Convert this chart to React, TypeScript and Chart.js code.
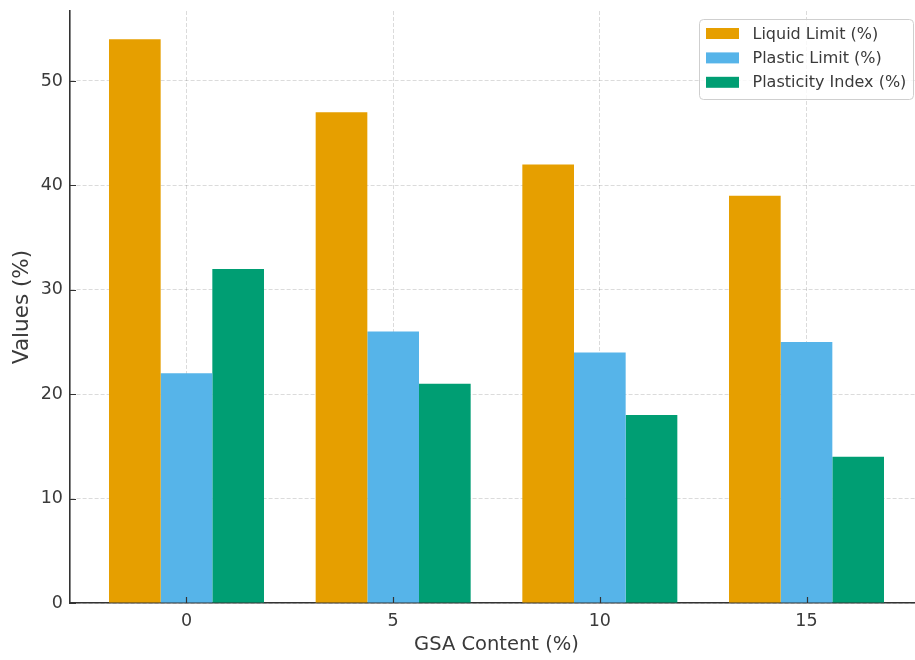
import React, { useEffect, useRef } from 'react';
import { Chart, registerables } from 'chart.js';

Chart.register(...registerables);

const categories = ['0', '5', '10', '15'];
const liquidLimit = [54, 47, 42, 39];
const plasticLimit = [22, 26, 24, 25];
const plasticityIndex = [32, 21, 18, 14];
const seriesLabels = ['Liquid Limit (%)', 'Plastic Limit (%)', 'Plasticity Index (%)'];
const seriesColors = ['#E69F00', '#56B4E9', '#009E73'];
const yTickValues = [0, 10, 20, 30, 40, 50];
const xAxisTitle = 'GSA Content (%)';
const yAxisTitle = 'Values (%)';

const TEXT = '#3a3a3a';
const FONT = "'DejaVu Sans', sans-serif";

const innerTicks = {
  id: 'innerTicks',
  afterDraw(chart: any) {
    const { ctx, chartArea, scales } = chart;
    ctx.save();
    ctx.strokeStyle = '#333';
    ctx.lineWidth = 1.2;
    ctx.beginPath();
    scales.y.ticks.forEach((t: any) => {
      const y = Math.round(scales.y.getPixelForValue(t.value)) + 0.5;
      ctx.moveTo(chartArea.left, y);
      ctx.lineTo(chartArea.left + 6, y);
    });
    scales.x.ticks.forEach((t: any) => {
      const x = Math.round(scales.x.getPixelForValue(t.value)) + 0.5;
      ctx.moveTo(x, chartArea.bottom);
      ctx.lineTo(x, chartArea.bottom - 6);
    });
    ctx.stroke();
    ctx.restore();
  },
};

const boxLegend = {
  id: 'boxLegend',
  afterDraw(chart: any) {
    const { ctx } = chart;
    const ds = chart.data.datasets;
    const bx = 699, by = 19, bw = 214, bh = 80;
    ctx.save();
    ctx.beginPath();
    (ctx as any).roundRect(bx + 0.5, by + 0.5, bw, bh, 4);
    ctx.fillStyle = 'rgba(255,255,255,0.8)';
    ctx.fill();
    ctx.strokeStyle = '#cfcfcf';
    ctx.lineWidth = 1;
    ctx.stroke();
    ctx.font = `16px ${FONT}`;
    ctx.textBaseline = 'middle';
    ctx.textAlign = 'left';
    ds.forEach((d: any, i: number) => {
      const cy = 33.5 + i * 24.4;
      ctx.fillStyle = d.backgroundColor;
      ctx.fillRect(706, cy - 5.5, 33, 11);
      ctx.fillStyle = TEXT;
      ctx.fillText(d.label, 752.5, cy + 1);
    });
    ctx.restore();
  },
};

export default function App() {
  const ref = useRef<HTMLCanvasElement | null>(null);

  useEffect(() => {
    if (!ref.current) return;
    Chart.defaults.font.family = FONT;
    const seriesData = [liquidLimit, plasticLimit, plasticityIndex];
    const chart = new Chart(ref.current, {
      type: 'bar',
      data: {
        datasets: seriesData.map((vals, i) => ({
          label: seriesLabels[i],
          data: vals.map((v, j) => ({ x: j, y: v })),
          backgroundColor: seriesColors[i],
          borderWidth: 0,
          categoryPercentage: 0.75,
          barPercentage: 1,
        })),
      },
      options: {
        animation: false,
        responsive: false,
        layout: { padding: { top: 11, right: 0, left: 0, bottom: 0 } },
        plugins: { legend: { display: false }, tooltip: { enabled: false } },
        scales: {
          x: {
            type: 'linear',
            offset: false,
            min: -0.5637,
            max: 3.5637,
            z: 1,
            afterBuildTicks: (s: any) => {
              s.ticks = categories.map((_, i) => ({ value: i }));
            },
            afterFit: (s: any) => {
              s.height = 57;
              s.paddingLeft = 0;
              s.paddingRight = 0;
            },
            ticks: {
              callback: (v: any) => categories[v] ?? '',
              color: TEXT,
              font: { size: 17.5 },
              padding: 8,
              maxRotation: 0,
              autoSkip: false,
            },
            grid: {
              offset: false,
              color: 'rgba(0,0,0,0.14)',
              lineWidth: 1,
              drawTicks: false,
            },
            border: { display: true, color: '#333', width: 1.6, dash: [4, 2] },
            title: {
              display: true,
              text: xAxisTitle,
              color: TEXT,
              font: { size: 19.5 },
              padding: { top: 0, bottom: 3 },
            },
          },
          y: {
            type: 'linear',
            min: 0,
            max: 56.7,
            z: 1,
            afterBuildTicks: (s: any) => {
              s.ticks = yTickValues.map((v) => ({ value: v }));
            },
            afterFit: (s: any) => {
              s.width = 70;
              s.paddingTop = 0;
              s.paddingBottom = 0;
            },
            ticks: {
              color: TEXT,
              font: { size: 17.5 },
              padding: 7,
            },
            grid: {
              color: 'rgba(0,0,0,0.14)',
              lineWidth: 1,
              drawTicks: false,
            },
            border: { display: true, color: '#333', width: 1.6, dash: [4, 2] },
            title: {
              display: true,
              text: yAxisTitle,
              color: TEXT,
              font: { size: 21.5 },
              padding: { top: 10, bottom: 0 },
            },
          },
        },
      },
      plugins: [innerTicks, boxLegend],
    } as any);
    return () => chart.destroy();
  }, []);

  return (
    <div style={{ position: 'absolute', left: 0, top: 0, width: 915, height: 660, overflow: 'hidden', background: '#fff' }}>
      <canvas ref={ref} width={923} height={660} style={{ display: 'block' }} />
    </div>
  );
}
